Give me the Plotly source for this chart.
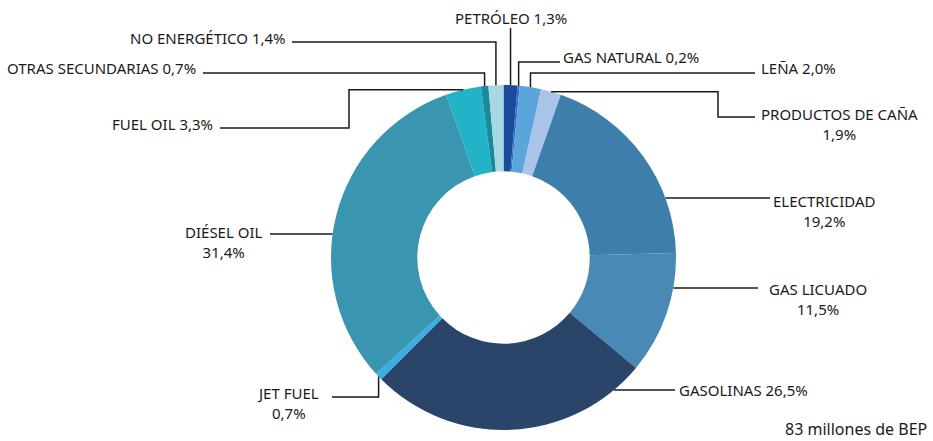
import math
import plotly.graph_objects as go

W, H = 933, 441

# data, clockwise from 12 o'clock
labels = ["PETRÓLEO", "GAS NATURAL", "LEÑA", "PRODUCTOS DE CAÑA", "ELECTRICIDAD",
          "GAS LICUADO", "GASOLINAS", "JET FUEL", "DIÉSEL OIL", "FUEL OIL",
          "OTRAS SECUNDARIAS", "NO ENERGÉTICO"]
shares = [1.3, 0.2, 2.0, 1.9, 19.2, 11.5, 26.5, 0.7, 31.4, 3.3, 0.7, 1.4]
colors = ["#1a4c9e", "#2c6fc0", "#5aa5da", "#a9c4e8", "#3d7eab", "#4889b5",
          "#2a4569", "#3aaee2", "#3a95b0", "#22b3c8", "#1a8a9e", "#a8d8e4"]
total_note = "83 millones de BEP"

# pie geometry in pixels
CX, CY, R = 503.5, 257.5, 172.5


def px(x, y):
    return x / W, 1 - y / H


def mid_point(i):
    tot = sum(shares)
    start = sum(shares[:i]) / tot
    a = 2 * math.pi * (start + shares[i] / tot / 2)
    return CX + R * math.sin(a), CY - R * math.cos(a)


def edge_x(y, side):
    return CX + side * math.sqrt(R * R - (y - CY) ** 2)


def fmt(v):
    return f"{v:.1f}".replace(".", ",") + "%"


x0, y0 = px(CX - R, CY + R)
x1, y1 = px(CX + R, CY - R)
fig = go.Figure(go.Pie(
    labels=labels, values=shares, sort=False, direction="clockwise", rotation=0,
    hole=0.5, marker=dict(colors=colors, line=dict(width=0)),
    textinfo="none", hoverinfo="label+percent", showlegend=False,
    domain=dict(x=[x0, x1], y=[y0, y1]),
))

# leader routes per label index
routes = {
    0: ("vert", 28, None),            # petróleo: straight up
    1: ("vert", 62, 560),             # gas natural
    2: ("vert", 73, 755),             # leña
    3: ("step", 718, 117, 755),       # productos de caña
    4: ("horiz", 198, 770, 1),        # electricidad
    5: ("horiz", 288, 758, 1),        # gas licuado
    6: ("horiz", 390, 675, 1),        # gasolinas
    7: ("vertL", 397, 332),           # jet fuel
    8: ("horiz", 234, 270, -1),       # diésel
    9: ("stepL", 349, 128, 220),      # fuel oil
    10: ("vert", 73, 203),            # otras secundarias
    11: ("vert", 42, 292),            # no energético
}

for i, r in routes.items():
    ax, ay = mid_point(i)
    if r[0] == "vert":
        pts = [(ax, ay), (ax, r[1])]
        if r[2] is not None:
            pts.append((r[2], r[1]))
    elif r[0] == "vertL":
        pts = [(ax, ay), (ax, r[1]), (r[2], r[1])]
    elif r[0] in ("step", "stepL"):
        pts = [(ax, ay), (r[1], ay), (r[1], r[2]), (r[3], r[2])]
    else:
        y = r[1]
        pts = [(edge_x(y, r[3]), y), (r[2], y)]
    path = "M " + " L ".join(f"{px(x, y)[0]},{px(x, y)[1]}" for x, y in pts)
    fig.add_shape(type="path", path=path, xref="paper", yref="paper",
                  line=dict(color="#1a1a1a", width=1.5))

font = dict(family="Noto Sans, Open Sans, sans-serif", size=15, color="#1a1a1a")

# label texts: index -> (x, y, xanchor, yanchor, two-line)
texts = {
    0: (511, 18, "center", "middle", False),
    1: (561, 57, "left", "middle", False),
    2: (759, 68, "left", "middle", False),
    3: (759, 102, "left", "top", True),
    4: (771, 189, "left", "top", True),
    5: (767, 277, "left", "top", True),
    6: (677, 390, "left", "middle", False),
    7: (321, 381, "right", "top", True),
    8: (265, 220, "right", "top", True),
    9: (215, 124, "right", "middle", False),
    10: (198, 68, "right", "middle", False),
    11: (288, 38, "right", "middle", False),
}

for i, (x, y, xa, ya, two) in texts.items():
    sep = "<br>" if two else " "
    fx, fy = px(x, y)
    fig.add_annotation(x=fx, y=fy, xref="paper", yref="paper", xanchor=xa, yanchor=ya,
                       text=labels[i] + sep + fmt(shares[i]), showarrow=False,
                       align="center", font=font)

fx, fy = px(929, 429)
fig.add_annotation(x=fx, y=fy, xref="paper", yref="paper", xanchor="right", yanchor="middle",
                   text=total_note, showarrow=False, font=dict(font, size=16))

fig.update_layout(width=W, height=H, margin=dict(l=0, r=0, t=0, b=0),
                  paper_bgcolor="white", plot_bgcolor="white")

# drop the default page margin so the figure fills the window exactly
fig.write_html("out.html", config={"displayModeBar": False},
               post_script="document.body.style.margin='0';")
